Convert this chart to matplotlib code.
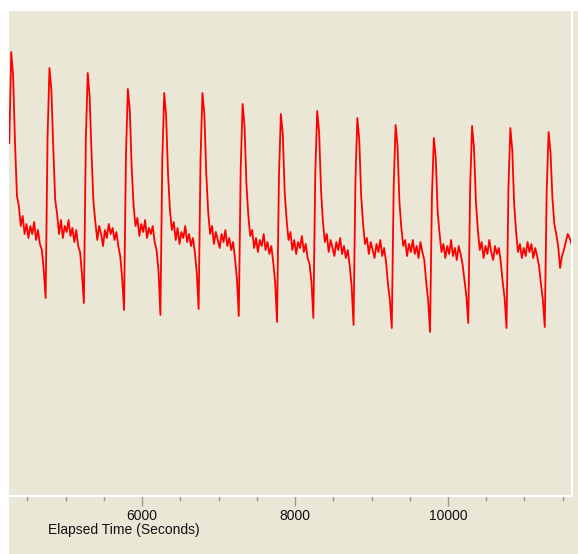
import numpy as np
import matplotlib
matplotlib.use("Agg")
import matplotlib.pyplot as plt
from matplotlib.patches import Rectangle
from matplotlib.ticker import MultipleLocator, FixedLocator

# sample times (s), one reading every 25 s
t_start = 4265
t_step  = 25

# signal (arbitrary units), one row per beat
sig_1  = [353, 444, 420, 352, 300, 290, 270, 280, 262, 272, 258, 270, 262, 274, 256, 266, 252, 246, 226, 198, 359]
sig_2  = [428, 406, 348, 296, 282, 262, 276, 258, 270, 264, 276, 260, 268, 254, 266, 250, 244, 222, 193, 354]
sig_3  = [423, 400, 342, 294, 274, 256, 270, 262, 250, 266, 258, 272, 262, 268, 256, 264, 250, 240, 218, 186, 341]
sig_4  = [407, 386, 328, 290, 270, 278, 260, 272, 264, 276, 258, 268, 262, 270, 254, 246, 226, 181, 336]
sig_5  = [403, 380, 322, 286, 266, 274, 256, 268, 252, 264, 258, 270, 254, 262, 250, 258, 244, 224, 187, 338]
sig_6  = [403, 382, 322, 284, 262, 270, 252, 264, 256, 248, 262, 254, 266, 250, 258, 246, 254, 238, 218, 180, 328]
sig_7  = [392, 370, 312, 280, 260, 266, 248, 258, 244, 256, 250, 262, 246, 254, 242, 250, 234, 214, 174, 320]
sig_8  = [382, 362, 304, 276, 256, 264, 246, 256, 242, 254, 248, 260, 244, 252, 238, 232, 214, 178, 323]
sig_9  = [385, 364, 306, 274, 254, 262, 244, 256, 248, 240, 254, 246, 258, 242, 250, 238, 246, 230, 210, 171, 316]
sig_10 = [378, 356, 300, 272, 252, 258, 242, 254, 246, 238, 252, 244, 256, 240, 248, 234, 212, 196, 168, 310]
sig_11 = [371, 350, 294, 268, 250, 256, 240, 252, 244, 256, 242, 250, 238, 254, 244, 236, 214, 196, 164, 300]
sig_12 = [358, 338, 284, 262, 244, 252, 238, 250, 242, 256, 240, 248, 236, 250, 242, 232, 216, 200, 173, 311]
sig_13 = [370, 348, 294, 266, 246, 254, 238, 250, 242, 256, 244, 236, 250, 242, 248, 234, 214, 198, 168, 308]
sig_14 = [368, 346, 292, 264, 244, 252, 238, 248, 240, 254, 244, 252, 238, 248, 240, 230, 212, 196, 169, 305]
sig_15 = [364, 344, 298, 272, 262, 250, 228, 240, 246, 254, 262, 258, 252]

major_ticks = [6000, 8000, 10000]

signal = (sig_1 + sig_2 + sig_3 + sig_4 + sig_5 + sig_6 + sig_7 + sig_8
          + sig_9 + sig_10 + sig_11 + sig_12 + sig_13 + sig_14 + sig_15)
times = t_start + t_step * np.arange(len(signal))

BEIGE = '#EBE7D7'

fig = plt.figure(figsize=(5.78, 5.54), dpi=100, facecolor='white')
fig.patches.append(Rectangle((9/578, 0), 1 - 9/578, 1 - 11/554,
                             transform=fig.transFigure, facecolor=BEIGE,
                             edgecolor='none', zorder=-10))

ax = fig.add_axes([9/578, 58/554, 563/578, 485/554])
ax.set_facecolor(BEIGE)
ax.plot(times, signal, color='#FF0000', lw=1.3)

ax.set_xlim(4261, 11621)
ax.set_ylim(0, 485)

for s in ['top', 'left']:
    ax.spines[s].set_visible(False)
for s in ['right', 'bottom']:
    ax.spines[s].set_color('white')
    ax.spines[s].set_linewidth(1.5)

ax.set_yticks([])
ax.xaxis.set_major_locator(FixedLocator(major_ticks))
ax.xaxis.set_minor_locator(MultipleLocator(500))
ax.tick_params(axis='x', which='major', direction='out', length=7, width=1,
               color='#999999', pad=2, labelsize=10, labelcolor='#111111')
ax.tick_params(axis='x', which='minor', direction='out', length=3.5, width=1,
               color='#999999')
for lab in ax.get_xticklabels():
    lab.set_family('Liberation Sans')

fig.text(48/578, 1 - 530/554, 'Elapsed Time (Seconds)', ha='left', va='center',
         fontsize=10, family='Liberation Sans', color='#111111')

fig.savefig('out.png', dpi=100, facecolor=fig.get_facecolor())
